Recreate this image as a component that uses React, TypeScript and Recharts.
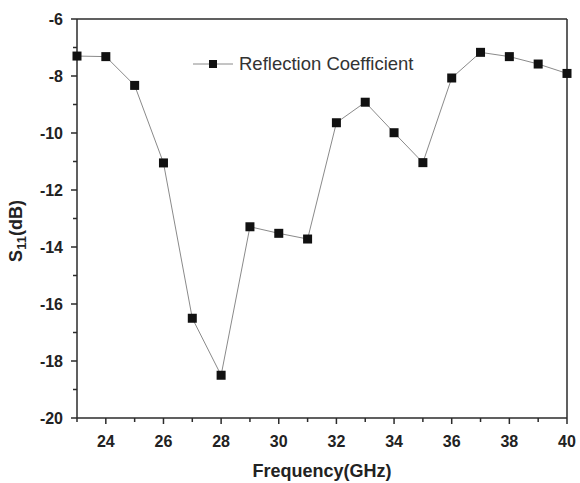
import React from "react";
import {
  LineChart, Line, XAxis, YAxis, ReferenceLine,
} from "recharts";

// S11 measurement, 23–40 GHz in 1 GHz steps
const freqGHz = [23, 24, 25, 26, 27, 28, 29, 30, 31, 32, 33, 34, 35, 36, 37, 38, 39, 40];
const s11dB = [
  -7.3, -7.32, -8.33, -11.05, -16.5, -18.5, -13.29, -13.52, -13.72,
  -9.64, -8.92, -9.99, -11.04, -8.07, -7.17, -7.32, -7.58, -7.91,
];

// every integer gets a tick; only the even ones carry a label
const xTicks = [23, 24, 25, 26, 27, 28, 29, 30, 31, 32, 33, 34, 35, 36, 37, 38, 39, 40];
const yTicks = [-20, -19, -18, -17, -16, -15, -14, -13, -12, -11, -10, -9, -8, -7, -6];

const seriesName = "Reflection Coefficient";

const data = freqGHz.map((f, i) => ({ f, s11: s11dB[i] }));

const FONT = "'Liberation Sans', Arial, Helvetica, sans-serif";
const AXIS = "#2b2b2b";
const LINE = "#8a8a8a";

const XTick = (props: any) => {
  const { x, y, payload } = props;
  const major = payload.value % 2 === 0;
  return (
    <g>
      <line x1={x} x2={x} y1={y} y2={y + (major ? 6 : 4)} stroke={AXIS} strokeWidth={1.5} />
      {major && (
        <text x={x} y={y + 29} textAnchor="middle" fontFamily={FONT} fontWeight="bold" fontSize={16} fill="#222">
          {payload.value}
        </text>
      )}
    </g>
  );
};

const YTick = (props: any) => {
  const { x, y, payload } = props;
  const major = payload.value % 2 === 0;
  return (
    <g>
      <line x1={x} x2={x - (major ? 6 : 4)} y1={y} y2={y} stroke={AXIS} strokeWidth={1.5} />
      {major && (
        <text x={x - 14} y={y + 5.5} textAnchor="end" fontFamily={FONT} fontWeight="bold" fontSize={16} fill="#222">
          {payload.value}
        </text>
      )}
    </g>
  );
};

const SquareDot = (props: any) => {
  const { cx, cy } = props;
  if (cx == null || cy == null) return null;
  return <rect x={cx - 4.5} y={cy - 4.5} width={9} height={9} fill="#111" />;
};

const YTitle = () => (
  <text
    x={22}
    y={231}
    transform="rotate(-90 22 231)"
    textAnchor="middle"
    fontFamily={FONT}
    fontWeight="bold"
    fontSize={18}
    fill="#222"
  >
    <tspan>S</tspan>
    <tspan dy={4} fontSize={13}>11</tspan>
    <tspan dy={-4}>(dB)</tspan>
  </text>
);

const XTitle = () => (
  <text x={322} y={477} textAnchor="middle" fontFamily={FONT} fontWeight="bold" fontSize={18} fill="#222">
    Frequency(GHz)
  </text>
);

// legend sits inside the plot, top-left, as an overlay
const LegendBox = () => (
  <div
    style={{
      position: "absolute", left: 193, top: 54,
      display: "flex", alignItems: "center",
      fontFamily: FONT, fontSize: 18.5, color: "#333",
    }}
  >
    <svg width={40} height={12} style={{ display: "block" }}>
      <line x1={0} x2={40} y1={6} y2={6} stroke={LINE} strokeWidth={1} />
      <rect x={16} y={2} width={8} height={8} fill="#111" />
    </svg>
    <span style={{ marginLeft: 6, lineHeight: "20px" }}>{seriesName}</span>
  </div>
);

export default function App() {
  return (
    <div style={{ position: "absolute", left: 0, top: 0, width: 580, height: 483, background: "#fff" }}>
      <LineChart width={580} height={483} data={data} margin={{ top: 19, right: 13, left: 20, bottom: 20 }}>
        <XAxis
          dataKey="f"
          type="number"
          domain={[23, 40]}
          ticks={xTicks}
          interval={0}
          height={45}
          tickSize={0}
          tickMargin={0}
          tickLine={false}
          tick={<XTick />}
          axisLine={{ stroke: AXIS, strokeWidth: 1.5 }}
          label={<XTitle />}
        />
        <YAxis
          type="number"
          domain={[-20, -6]}
          ticks={yTicks}
          interval={0}
          width={57}
          tickSize={0}
          tickMargin={0}
          tickLine={false}
          tick={<YTick />}
          axisLine={{ stroke: AXIS, strokeWidth: 1.5 }}
          label={<YTitle />}
        />
        <ReferenceLine y={-6} stroke={AXIS} strokeWidth={1.5} />
        <ReferenceLine x={40} stroke={AXIS} strokeWidth={1.5} />
        <Line
          dataKey="s11"
          name={seriesName}
          stroke={LINE}
          strokeWidth={1}
          dot={<SquareDot />}
          activeDot={false}
          isAnimationActive={false}
        />
      </LineChart>
      <LegendBox />
    </div>
  );
}
